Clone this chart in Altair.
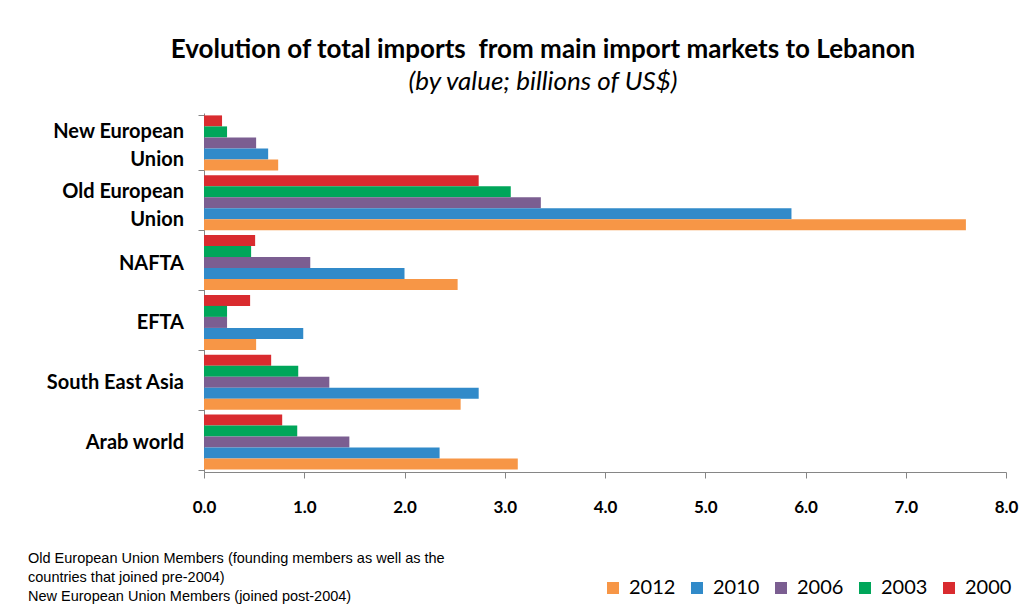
import altair as alt
import pandas as pd

regions = ["New European Union", "Old  European Union", "NAFTA", "EFTA", "South East Asia", "Arab world"]
region_labels = ["New European\nUnion", "Old  European\nUnion", "NAFTA", "EFTA", "South East Asia", "Arab world"]
years_top_down = ["2000", "2003", "2006", "2010", "2012"]
legend_order = ["2012", "2010", "2006", "2003", "2000"]
colors = ["#F79646", "#318AC9", "#7B5E91", "#00A65A", "#D92B2F"]  # 2012, 2010, 2006, 2003, 2000

v2000 = [0.18, 2.74, 0.51, 0.46, 0.67, 0.78]
v2003 = [0.23, 3.06, 0.47, 0.23, 0.94, 0.93]
v2006 = [0.52, 3.36, 1.06, 0.23, 1.25, 1.45]
v2010 = [0.64, 5.86, 2.00, 0.99, 2.74, 2.35]
v2012 = [0.74, 7.60, 2.53, 0.52, 2.56, 3.13]

series = {"2000": v2000, "2003": v2003, "2006": v2006, "2010": v2010, "2012": v2012}
rows = []
for yr, vals in series.items():
    for r, v in zip(regions, vals):
        rows.append({"region": r, "year": yr, "value": v})
df = pd.DataFrame(rows)

lab_df = pd.DataFrame({"region": regions, "label": region_labels,
                       "lines": [s.count("\n") + 1 for s in region_labels]})

footnote = ("Old European Union Members (founding members as well as the\n"
            "countries that joined pre-2004)\n"
            "New European Union Members (joined post-2004)")

y_enc = alt.Y("region:N", sort=regions,
              scale=alt.Scale(paddingInner=0.08, paddingOuter=0.04),
              axis=alt.Axis(title=None, labels=False, tickBand="extent",
                            domainColor="#868686", tickColor="#868686", tickSize=6))

bars = alt.Chart(df).mark_bar().encode(
    x=alt.X("value:Q", scale=alt.Scale(domain=[0, 8], nice=False),
            axis=alt.Axis(title=None, values=[0, 1, 2, 3, 4, 5, 6, 7, 8], format=".1f",
                          grid=False, domainColor="#868686", tickColor="#868686",
                          tickSize=6, labelPadding=21, labelFont="Lato", labelFontSize=17,
                          labelFontWeight="bold", labelColor="black", labelFlush=False)),
    y=y_enc,
    yOffset=alt.YOffset("year:N", sort=years_top_down),
    color=alt.Color("year:N", scale=alt.Scale(domain=legend_order, range=colors),
                    legend=alt.Legend(title=None, orient="none", legendX=399, legendY=465,
                                      direction="horizontal", columns=5, symbolType="square",
                                      symbolSize=144, labelFont="Lato",
                                      labelFontSize=20, labelColor="black",
                                      columnPadding=11, symbolStrokeWidth=0, labelOffset=6)),
)

lab_style = dict(align="right", baseline="middle", font="Lato", fontSize=20,
                 fontWeight="bold", color="black", lineBreak="\n", lineHeight=28)

labels1 = alt.Chart(lab_df).transform_filter("datum.lines == 1").mark_text(dy=1, **lab_style).encode(
    y=alt.Y("region:N", sort=regions), x=alt.value(-20), text="label:N")
labels2 = alt.Chart(lab_df).transform_filter("datum.lines == 2").mark_text(dy=-11, **lab_style).encode(
    y=alt.Y("region:N", sort=regions), x=alt.value(-20), text="label:N")

note = alt.Chart(pd.DataFrame({"t": [footnote]})).mark_text(
    align="left", baseline="middle", font="Liberation Sans", fontSize=14.5,
    lineBreak="\n", lineHeight=19, color="black"
).encode(text="t:N", x=alt.value(-176), y=alt.value(446))

chart = alt.layer(bars, labels1, labels2, note).properties(
    width=802, height=359,
    autosize=alt.AutoSizeParams(type="none"),
    padding={"left": 196, "top": 105, "right": 14, "bottom": 135},
    title=alt.TitleParams(
        text="Evolution of total imports\u00a0 from main import markets to Lebanon",
        subtitle="(by value; billions of US$)",
        font="Lato", fontSize=26, fontWeight="bold", color="black",
        subtitleFont="Lato", subtitleFontSize=26, subtitleFontStyle="italic",
        subtitleColor="black", anchor="middle", frame="group", dx=-62, offset=18,
        subtitlePadding=6,
    ),
).configure_view(stroke=None)

chart.save("out.html", embed_options={"renderer": "svg", "actions": False})
